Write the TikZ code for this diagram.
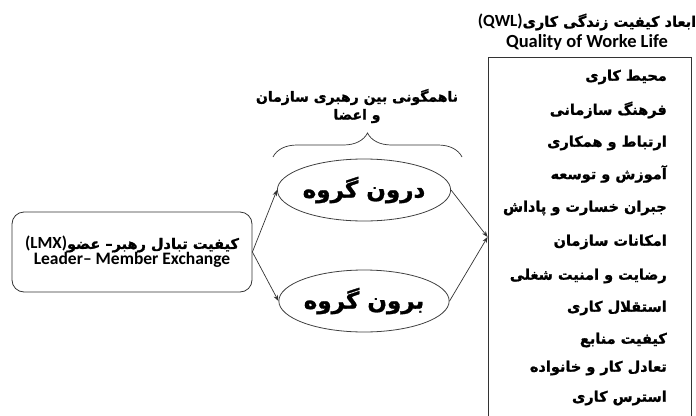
\documentclass[tikz,border=0pt]{standalone}
\usepackage{fontspec}
\usetikzlibrary{arrows.meta,shapes.geometric,decorations.pathreplacing}
\TeXXeTstate=1
\newfontfamily\fa[Script=Arabic, BoldFeatures={FakeBold=1.2}]{DejaVu Sans}
\newfontfamily\en{Carlito}
\tikzset{
  faitem/.style={anchor=east, inner sep=0pt, font=\fa\bfseries\fontsize{14.5}{16}\selectfont},
  grp/.style={ellipse, draw=black!75, line width=0.8pt, minimum width=157pt, minimum height=62pt, inner sep=0pt, font=\fa\bfseries\fontsize{23}{26}\selectfont},
  lmxbox/.style={draw=black!80, line width=0.8pt, rounded corners=12pt, minimum width=240pt, minimum height=80pt, align=center, inner sep=0pt},
  qwlbox/.style={draw=black!80, line width=0.8pt, minimum width=203pt, minimum height=360pt, inner sep=0pt},
  conn/.style={draw=black!80, line width=0.7pt, -{Stealth[length=6pt,width=4.5pt]}},
  titletext/.style={align=center, inner sep=0pt},
}
\begin{document}
\begin{tikzpicture}[x=1pt,y=-1pt]
\useasboundingbox (0,0) rectangle (696,415);
% right box (bottom edge lies below the page)
\node[qwlbox] (qwl) at (589.5,237) {};
\node[titletext] (t1) at (587,22) {\fa\bfseries\fontsize{14.5}{16}\selectfont\beginR ابعاد کیفیت زندگی کاری{\en\bfseries\fontsize{17}{18}\selectfont\beginL(QWL)\endL}\endR};
\node[titletext] (t2) at (587,42) {\en\bfseries\fontsize{18.5}{20}\selectfont Quality of Worke Life};
\node[faitem] (i1) at (667,77) {\beginR محیط کاری\endR};
\node[faitem] (i2) at (667,110) {\beginR فرهنگ سازمانی\endR};
\node[faitem] (i3) at (667,143) {\beginR ارتباط و همکاری\endR};
\node[faitem] (i4) at (667,174) {\beginR آموزش و توسعه\endR};
\node[faitem] (i5) at (667,208) {\beginR جبران خسارت و پاداش\endR};
\node[faitem] (i6) at (667,242) {\beginR امکانات سازمان\endR};
\node[faitem] (i7) at (667,276) {\beginR رضایت و امنیت شغلی\endR};
\node[faitem] (i8) at (667,308) {\beginR استقلال کاری\endR};
\node[faitem] (i9) at (667,340) {\beginR کیفیت منابع\endR};
\node[faitem] (i10) at (667,368) {\beginR تعادل کار و خانواده\endR};
\node[faitem] (i11) at (667,398) {\beginR استرس کاری\endR};
% left box
\node[lmxbox] (lmx) at (132,252) {{\fa\bfseries\fontsize{14.5}{16}\selectfont\beginR کیفیت تبادل رهبر– عضو{\en\bfseries\fontsize{17}{18}\selectfont\beginL(LMX)\endL}\endR}\\[-1pt]{\en\bfseries\fontsize{17.5}{19}\selectfont Leader– Member Exchange}};
% groups
\node[grp] (in) at (364,190) {\beginR درون گروه\endR};
\node[grp] (out) at (364,301) {\beginR برون گروه\endR};
% brace and its label
\coordinate (bl) at (273,157);
\coordinate (br) at (462,157);
\draw[black!80, line width=0.7pt, decorate, decoration={brace, amplitude=24pt, aspect=0.5}] (bl) -- (br);
\node[titletext, font=\fa\bfseries\fontsize{14}{18}\selectfont] (lbl) at (357,106) {\beginR ناهمگونی بین رهبری سازمان\endR\\\beginR و اعضا\endR};
% connectors
\draw[conn] (lmx.east) -- (in.west);
\draw[conn] (lmx.east) -- (out.west);
\draw[conn] (in.east) -- (qwl.west);
\draw[conn] (out.east) -- (qwl.west);
\end{tikzpicture}
\end{document}
